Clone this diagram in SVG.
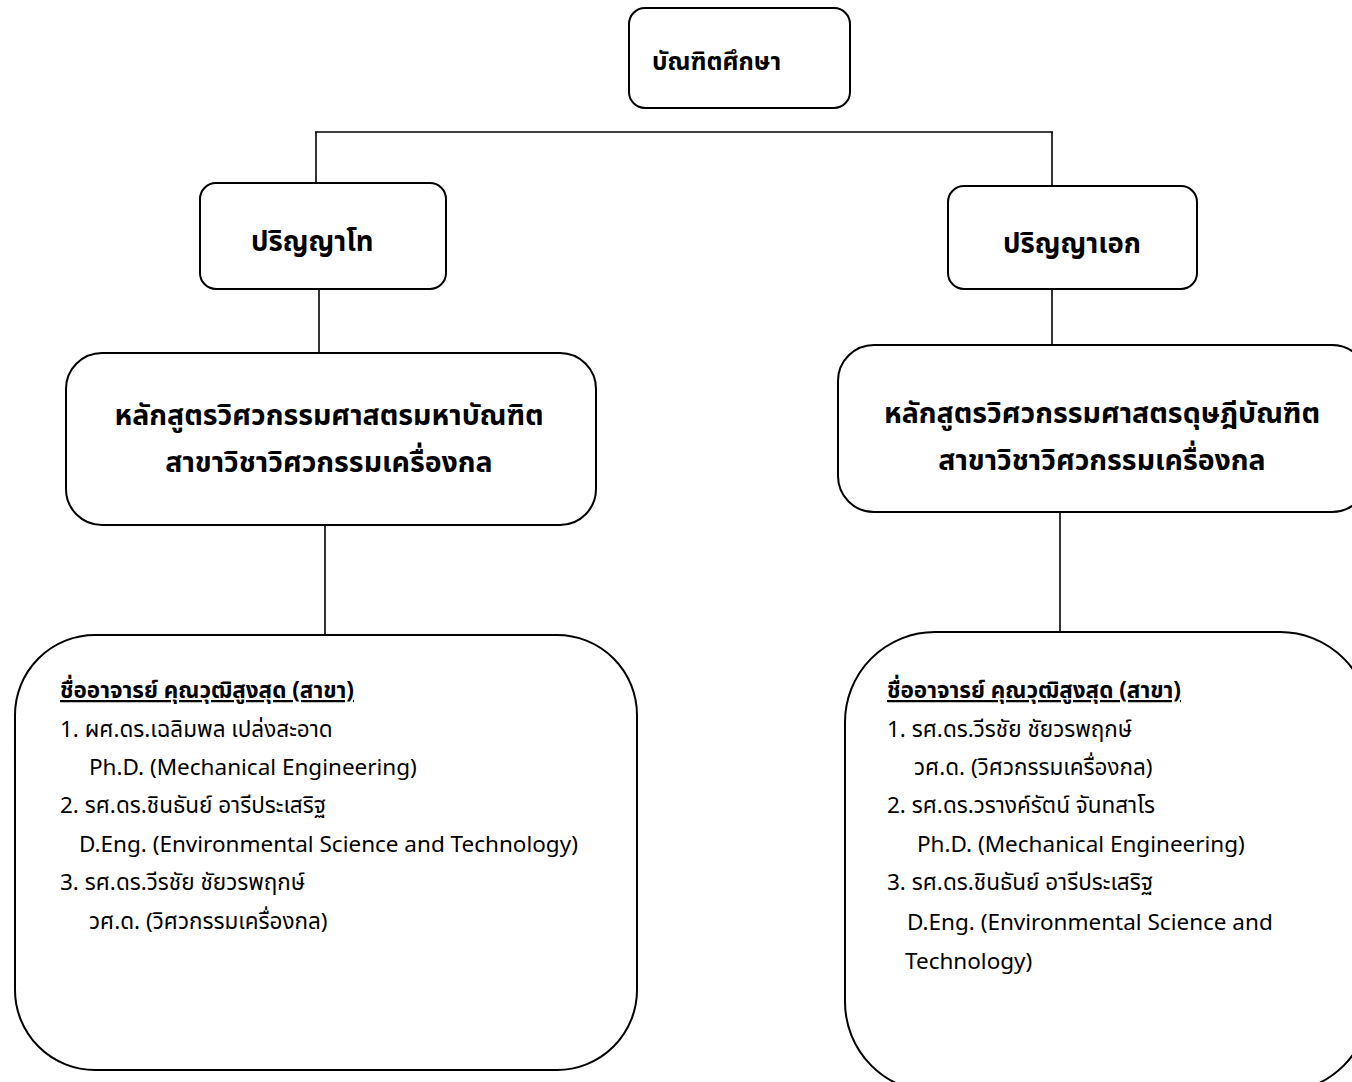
<svg xmlns="http://www.w3.org/2000/svg" width="1352" height="1082" viewBox="0 0 1352 1082">
<style>
.box{fill:#fff;stroke:#000;stroke-width:2}
.ln{stroke:#000;stroke-width:1.6;fill:none}
.t{font-family:"Noto Sans Thai","Noto Sans","Liberation Sans","DejaVu Sans",sans-serif;fill:#000}
.b0{font-weight:bold;font-size:24.5px}
.b1{font-weight:bold;font-size:27.5px}
.b{font-weight:bold;font-size:28.5px}
.s{font-size:22.5px}
.h{font-weight:bold;font-size:22.5px;text-decoration:underline}
</style>
<rect width="1352" height="1082" fill="#fff"/>
<g id="connectors">
<path class="ln" d="M315 132 H1053"/>
<path class="ln" d="M316 132 V183"/>
<path class="ln" d="M1052 132 V186"/>
<path class="ln" d="M319 289 V353"/>
<path class="ln" d="M1052 289 V345"/>
<path class="ln" d="M325 525 V635"/>
<path class="ln" d="M1060 512 V632"/>
</g>
<g id="n-top">
<rect class="box" x="629" y="8" width="221" height="100" rx="16"/>
<text class="t b0" x="652" y="70">บัณฑิตศึกษา</text>
</g>
<g id="n-master">
<rect class="box" x="200" y="183" width="246" height="106" rx="16"/>
<text class="t b1" x="251" y="251">ปริญญาโท</text>
</g>
<g id="n-doctor">
<rect class="box" x="948" y="186" width="249" height="103" rx="16"/>
<text class="t b1" x="1003" y="253">ปริญญาเอก</text>
</g>
<g id="n-master-prog">
<rect class="box" x="66" y="353" width="530" height="172" rx="36"/>
<text class="t b" x="329" y="425" text-anchor="middle">หลักสูตรวิศวกรรมศาสตรมหาบัณฑิต</text>
<text class="t b" x="329" y="472" text-anchor="middle">สาขาวิชาวิศวกรรมเครื่องกล</text>
</g>
<g id="n-doctor-prog">
<rect class="box" x="838" y="345" width="530" height="167" rx="36"/>
<text class="t b" x="1102" y="423" text-anchor="middle">หลักสูตรวิศวกรรมศาสตรดุษฎีบัณฑิต</text>
<text class="t b" x="1102" y="470" text-anchor="middle">สาขาวิชาวิศวกรรมเครื่องกล</text>
</g>
<g id="n-master-staff">
<rect class="box" x="15" y="635" width="622" height="435" rx="80"/>
<text class="t h" x="60" y="698">ชื่ออาจารย์ คุณวุฒิสูงสุด (สาขา)</text>
<text class="t s" x="60" y="737">1. ผศ.ดร.เฉลิมพล เปล่งสะอาด</text>
<text class="t s" x="89" y="775">Ph.D. (Mechanical Engineering)</text>
<text class="t s" x="60" y="813">2. รศ.ดร.ชินธันย์ อารีประเสริฐ</text>
<text class="t s" x="79" y="852">D.Eng. (Environmental Science and Technology)</text>
<text class="t s" x="60" y="890">3. รศ.ดร.วีรชัย ชัยวรพฤกษ์</text>
<text class="t s" x="89" y="929">วศ.ด. (วิศวกรรมเครื่องกล)</text>
</g>
<g id="n-doctor-staff">
<rect class="box" x="845" y="632" width="525" height="460" rx="90"/>
<text class="t h" x="887" y="698">ชื่ออาจารย์ คุณวุฒิสูงสุด (สาขา)</text>
<text class="t s" x="887" y="737">1. รศ.ดร.วีรชัย  ชัยวรพฤกษ์</text>
<text class="t s" x="914" y="775">วศ.ด. (วิศวกรรมเครื่องกล)</text>
<text class="t s" x="887" y="813">2. รศ.ดร.วรางค์รัตน์  จันทสาโร</text>
<text class="t s" x="917" y="852">Ph.D. (Mechanical Engineering)</text>
<text class="t s" x="887" y="890">3. รศ.ดร.ชินธันย์ อารีประเสริฐ</text>
<text class="t s" x="907" y="930">D.Eng. (Environmental Science and</text>
<text class="t s" x="905" y="969">Technology)</text>
</g>
</svg>
